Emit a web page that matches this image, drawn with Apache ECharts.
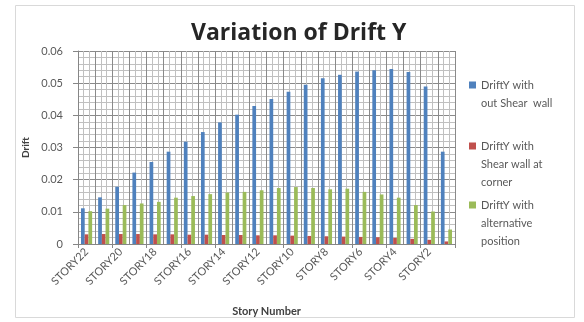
<!DOCTYPE html>
<html>
<head>
<meta charset="utf-8">
<script src="https://cdn.jsdelivr.net/npm/echarts@6/dist/echarts.min.js"></script>
<style>html,body{margin:0;padding:0;background:#fff}#c{width:584px;height:322px}</style>
</head>
<body>
<div id="c"></div>
<script>
const categories = ['STORY22','STORY21','STORY20','STORY19','STORY18','STORY17','STORY16','STORY15','STORY14','STORY13','STORY12','STORY11','STORY10','STORY9','STORY8','STORY7','STORY6','STORY5','STORY4','STORY3','STORY2','STORY1'];
const driftNoWall = [0.0111,0.0145,0.0178,0.0222,0.0255,0.0287,0.0318,0.0348,0.0378,0.0402,0.0429,0.0451,0.0473,0.0495,0.0515,0.0526,0.0536,0.0540,0.0544,0.0535,0.0490,0.0287];
const driftCorner = [0.0030,0.0031,0.0031,0.0031,0.0030,0.0030,0.0029,0.0029,0.0028,0.0028,0.0027,0.0027,0.0026,0.0025,0.0024,0.0023,0.0022,0.0021,0.0019,0.0016,0.0013,0.0008];
const driftAlt = [0.0102,0.0110,0.0121,0.0126,0.0131,0.0144,0.0149,0.0155,0.0160,0.0162,0.0167,0.0174,0.0177,0.0174,0.0170,0.0172,0.0162,0.0154,0.0144,0.0121,0.0101,0.0045];
const seriesNames = ['DriftY with\nout Shear  wall','DriftY with\nShear wall at\ncorner','DriftY with\nalternative\nposition'];
const colors = ['#4F81BD','#C0504D','#9BBB59'];

const FONT = 'Lato';
const chart = echarts.init(document.getElementById('c'), null, {renderer:'canvas'});
function legendFor(i, top) {
  const lines = seriesNames[i].split('\n').length;
  return {
    data: [seriesNames[i]], left: 469, top: top, padding: 0,
    itemWidth: 7, itemHeight: 7, itemGap: 0, icon: 'rect', selectedMode: false,
    formatter: name => '\n'.repeat(lines - 1) + name,
    textStyle: {fontFamily: FONT, fontSize: 11, color: '#595959', lineHeight: 18}
  };
}
chart.setOption({
  animation: false,
  color: colors,
  graphic: [{type:'rect', shape:{x:15.5,y:5.5,width:559,height:312}, style:{fill:'none', stroke:'#d9d9d9', lineWidth:1}, z:-1}],
  title: {text: 'Variation of Drift Y', left: 191, top: 22, padding: 0,
    textStyle: {fontFamily: 'Open Sans', fontWeight: 'bold', fontSize: 23, color: '#262626'}},
  legend: [legendFor(0, 58), legendFor(1, 101), legendFor(2, 160)],
  grid: {left: 78, right: 129, top: 51, bottom: 76},
  xAxis: [{
    type: 'category', data: categories,
    name: 'Story Number', nameLocation: 'middle', nameGap: 62,
    nameTextStyle: {fontFamily: FONT, fontWeight: 'bold', fontSize: 11, color: '#404040'},
    axisLine: {lineStyle: {color: '#868686'}},
    axisTick: {show: true, length: 4, lineStyle: {color: '#868686'}},
    axisLabel: {interval: 1, rotate: 45, fontFamily: FONT, fontSize: 11, color: '#595959', margin: 6},
    splitLine: {show: false}
  }, {
    type: 'value', min: 0, max: 22, interval: 1, position: 'top',
    axisLine: {show: false}, axisTick: {show: false}, axisLabel: {show: false},
    splitLine: {show: true, lineStyle: {color: '#8a8a8a', width: 1}},
    minorTick: {show: false, splitNumber: 3},
    minorSplitLine: {show: true, lineStyle: {color: '#c0c0c0', width: 1}}
  }],
  yAxis: {
    type: 'value', min: 0, max: 0.06, interval: 0.01,
    name: 'Drift', nameLocation: 'middle', nameGap: 46, nameRotate: 90,
    nameTextStyle: {fontFamily: FONT, fontWeight: 'bold', fontSize: 10, color: '#404040'},
    axisLine: {show: true, lineStyle: {color: '#868686'}},
    axisTick: {show: true, length: 5, lineStyle: {color: '#868686'}},
    axisLabel: {fontFamily: FONT, fontSize: 11, color: '#595959', margin: 15,
      formatter: v => v === 0 ? '0' : v.toFixed(2)},
    splitLine: {show: true, lineStyle: {color: '#8a8a8a'}},
    minorTick: {show: false, splitNumber: 5},
    minorSplitLine: {show: true, lineStyle: {color: '#c0c0c0'}}
  },
  series: [
    {name: seriesNames[0], type: 'bar', data: driftNoWall, xAxisIndex: 0, barGap: '0%', barCategoryGap: '35%'},
    {name: seriesNames[1], type: 'bar', data: driftCorner, xAxisIndex: 0},
    {name: seriesNames[2], type: 'bar', data: driftAlt, xAxisIndex: 0}
  ]
});
</script>
</body>
</html>
